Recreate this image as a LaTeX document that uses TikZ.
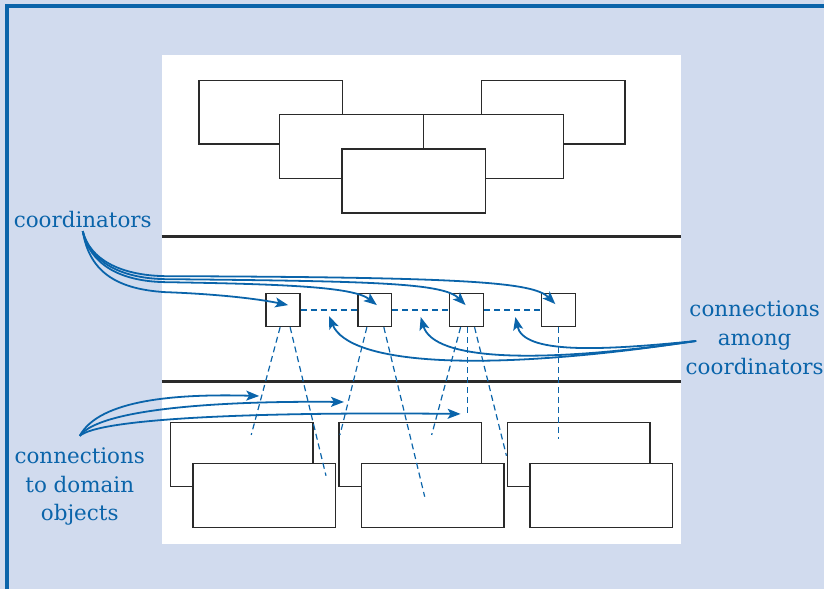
\documentclass[tikz,border=0pt]{standalone}
\usepackage{fontspec}
\setmainfont{DejaVu Serif}
\usetikzlibrary{arrows.meta, calc}
\definecolor{bluefg}{HTML}{0A64AA}
\definecolor{bluebg}{HTML}{D1DBEE}
\definecolor{linegray}{HTML}{2A2A2A}

\begin{document}
\begin{tikzpicture}[x=1pt, y=-1pt,
        objbox/.style={rectangle, draw=linegray, fill=white, line width=1.4pt, minimum width=144pt, minimum height=64pt, inner sep=0pt},
        coordbox/.style={rectangle, draw=linegray, fill=white, line width=1.4pt, minimum width=34pt, minimum height=33pt, inner sep=0pt},
        lbl/.style={text=bluefg, align=center, font=\fontsize{21.5}{29}\selectfont},
        arrow/.style={-{Stealth[length=13pt, width=10pt, inset=3pt]}, line width=1.8pt, bluefg},
        link/.style={dash pattern=on 6pt off 4pt, line width=1.2pt, bluefg},
        sep/.style={line width=3pt, linegray}
    ]
        % Background and frame
        \fill[bluebg] (0,0) rectangle (827,591);
        \draw[bluefg, line width=3.5pt] (7,591) -- (7,6) -- (827,6);
        \fill[white] (162,55) rectangle (683,546);

        % Top layer
        \node[objbox] (t1) at (271.5,112.5) {};
        \node[objbox] (t4) at (555,112.5) {};
        \node[objbox] (t2) at (352.5,147) {};
        \node[objbox, minimum width=140pt] (t3) at (495,147) {};
        \node[objbox] (t5) at (415,181.5) {};

        % Separators
        \draw[sep] (162,237) -- (683,237);
        \draw[sep] (162,383) -- (683,383);

        % Domain objects
        \node[objbox, minimum width=143pt] (d1) at (242.5,456) {};
        \node[objbox, minimum width=143pt] (d2) at (411.5,456) {};
        \node[objbox, minimum width=143pt] (d3) at (580.5,456) {};
        \node[objbox, minimum width=143pt] (d4) at (265,497) {};
        \node[objbox, minimum width=143pt] (d5) at (434,497) {};
        \node[objbox, minimum width=143pt] (d6) at (603,497) {};

        % Coordinators
        \node[coordbox] (c1) at (284,311) {};
        \node[coordbox] (c2) at (376,311) {};
        \node[coordbox] (c3) at (468,311) {};
        \node[coordbox] (c4) at (560,311) {};

        % Links among coordinators
        \draw[link] (c1) -- (c2);
        \draw[link] (c2) -- (c3);
        \draw[link] (c3) -- (c4);

        % Links to domain objects
        \draw[link] ($(c1.south)+(-3,0)$) -- ++(-29,108);
        \draw[link] ($(c1.south)+(7,0)$) -- ++(36,149);
        \draw[link] ($(c2.south)+(-8,0)$) -- ++(-27,108);
        \draw[link] ($(c2.south)+(9,0)$) -- ++(41,170);
        \draw[link] ($(c3.south)+(-6,0)$) -- ++(-29,108);
        \draw[link] ($(c3.south)+(1,0)$) -- ++(0,89);
        \draw[link] ($(c3.south)+(8,0)$) -- ++(32,129);
        \draw[link] (c4.south) -- ++(0,112);

        % Labels
        \node[lbl] (coordlbl) at (83,220) {coordinators};
        \node[lbl] (amonglbl) at (757,339) {connections\\among\\coordinators};
        \node[lbl] (domainlbl) at (80,488) {connections\\to domain\\objects};

        % Callout arrows
        \draw[arrow] (coordlbl.south) .. controls (90,275) and (120,290) .. (165,293)
            .. controls (220,295) and (260,300) .. ($(c1.center)+(5,-5)$);
        \draw[arrow] (coordlbl.south) .. controls (90,265) and (120,282) .. (165,283)
            .. controls (290,285) and (355,288) .. ($(c2.center)+(2,-5)$);
        \draw[arrow] (coordlbl.south) .. controls (90,262) and (120,279) .. (165,280)
            .. controls (380,282) and (445,284) .. ($(c3.center)+(-1,-5)$);
        \draw[arrow] (coordlbl.south) .. controls (90,260) and (120,276) .. (165,277)
            .. controls (470,278) and (535,283) .. ($(c4.center)+(-3,-6)$);

        \draw[arrow] ($(amonglbl.west)+(14,3)$) .. controls (480,375) and (350,365) .. ($(c1.east)!0.5!(c2.west)+(0,6)$);
        \draw[arrow] ($(amonglbl.west)+(14,3)$) .. controls (540,365) and (435,362) .. ($(c2.east)!0.5!(c3.west)+(0,7)$);
        \draw[arrow] ($(amonglbl.west)+(14,3)$) .. controls (600,352) and (525,355) .. ($(c3.east)!0.5!(c4.west)+(3,7)$);

        \draw[arrow] ($(domainlbl.north)+(0,-8)$) .. controls (100,400) and (180,395) .. ($(c1.south)+(-24,69)$);
        \draw[arrow] ($(domainlbl.north)+(0,-8)$) .. controls (100,410) and (220,402) .. ($(c2.south)+(-31,75)$);
        \draw[arrow] ($(domainlbl.north)+(0,-8)$) .. controls (100,420) and (250,413) .. ($(c3.south)+(-6,87)$);
    \end{tikzpicture}
\end{document}
